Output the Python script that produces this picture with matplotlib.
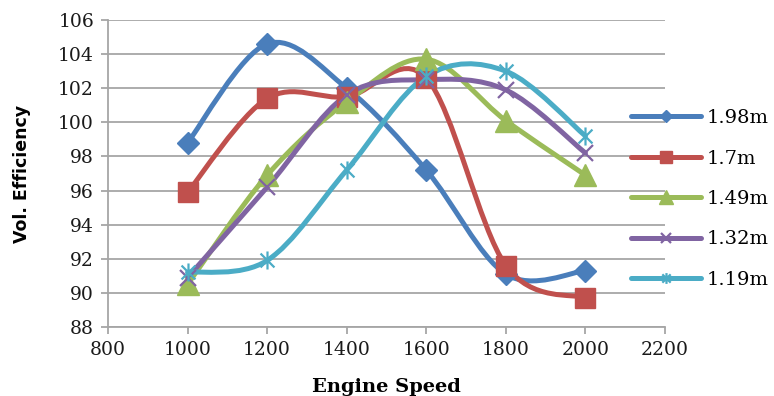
import numpy as np
import matplotlib
matplotlib.use("Agg")
import matplotlib.pyplot as plt
from matplotlib.path import Path
from matplotlib.patches import PathPatch
from matplotlib.lines import Line2D

# DATA
speed = [1000, 1200, 1400, 1600, 1800, 2000]
labels = ["1.98m", "1.7m", "1.49m", "1.32m", "1.19m"]
eff_198 = [98.8, 104.6, 102.0, 97.2, 91.1, 91.3]
eff_170 = [95.9, 101.4, 101.5, 102.6, 91.6, 89.7]
eff_149 = [90.5, 96.9, 101.2, 103.7, 100.1, 96.9]
eff_132 = [90.9, 96.2, 101.6, 102.5, 101.9, 98.2]
eff_119 = [91.2, 91.9, 97.2, 102.7, 103.0, 99.2]
x_ticks = [800, 1000, 1200, 1400, 1600, 1800, 2000, 2200]
y_ticks = [88, 90, 92, 94, 96, 98, 100, 102, 104, 106]

colors = ["#4A7EBB", "#C0504D", "#9BBB59", "#8064A2", "#4BACC6"]

# asterisk marker (x with a vertical bar)
star = Path([(-1, -1), (1, 1), (-1, 1), (1, -1), (0, -1.3), (0, 1.3)],
            [Path.MOVETO, Path.LINETO, Path.MOVETO, Path.LINETO, Path.MOVETO, Path.LINETO])
markers = [("D", 11), ("s", 15), ("^", 16), ("x", 11), (star, 13)]

XMIN, XMAX, YMIN, YMAX = 800, 2200, 88, 106
W_PX, H_PX = 557, 307


def smooth_path(xs, ys):
    # Excel-style smoothed line: cubic bezier through the points, built in screen-like units
    px = (np.array(xs, float) - XMIN) / (XMAX - XMIN) * W_PX
    py = (np.array(ys, float) - YMIN) / (YMAX - YMIN) * H_PX
    pts = np.column_stack([px, py])
    n = len(pts)
    verts = [pts[0]]
    codes = [Path.MOVETO]
    for i in range(n - 1):
        p0 = pts[i - 1] if i > 0 else pts[i]
        p1 = pts[i]
        p2 = pts[i + 1]
        p3 = pts[i + 2] if i + 2 < n else pts[i + 1]
        c1 = p1 + (p2 - p0) / 6.0
        c2 = p2 - (p3 - p1) / 6.0
        verts += [c1, c2, p2]
        codes += [Path.CURVE4] * 3
    v = np.array(verts)
    v[:, 0] = v[:, 0] / W_PX * (XMAX - XMIN) + XMIN
    v[:, 1] = v[:, 1] / H_PX * (YMAX - YMIN) + YMIN
    return Path(v, codes)


fig = plt.figure(figsize=(7.74, 3.96), dpi=100)
ax = fig.add_axes([108 / 774, 1 - 327 / 396, 557 / 774, 307 / 396])

series = [eff_198, eff_170, eff_149, eff_132, eff_119]
handles = []
for vals, col, (mk, ms), lab in zip(series, colors, markers, labels):
    ax.add_patch(PathPatch(smooth_path(speed, vals), fill=False, edgecolor=col,
                           lw=3.6, capstyle="round", joinstyle="round", zorder=3))
    mew = 1.6 if mk in ("x",) or isinstance(mk, Path) else 1
    ax.plot(speed, vals, linestyle="none", marker=mk, markersize=ms, color=col,
            markeredgecolor=col, markeredgewidth=mew, zorder=4)
    handles.append(Line2D([0], [0], color=col, lw=3.6, marker=mk,
                          markersize=ms * 0.6, markeredgewidth=mew, solid_capstyle="round"))

ax.set_xlim(XMIN, XMAX)
ax.set_ylim(YMIN, YMAX)
ax.set_xticks(x_ticks)
ax.set_yticks(y_ticks)
ax.grid(axis="y", color="#A6A6A6", lw=1.3)
ax.set_axisbelow(True)
for s in ("top", "right"):
    ax.spines[s].set_visible(False)
for s in ("left", "bottom"):
    ax.spines[s].set_color("#A6A6A6")
    ax.spines[s].set_linewidth(1.3)
ax.tick_params(axis="both", direction="out", length=5, width=1.3, color="#A6A6A6",
               labelsize=13.5, labelcolor="#1a1a1a", pad=5)
for t in ax.get_xticklabels() + ax.get_yticklabels():
    t.set_fontfamily("DejaVu Serif")

fig.text(386 / 774, 1 - 392 / 396, "Engine Speed", ha="center", va="baseline",
         fontsize=14, fontweight="bold", family="DejaVu Serif")
fig.text(22 / 774, 1 - 174 / 396, "Vol. Efficiency", ha="center", va="center",
         rotation=90, fontsize=12.5, fontweight="bold", family="Liberation Sans Narrow")

fig.legend(handles, labels, loc="center left", bbox_to_anchor=(613 / 774, 1 - 199 / 396),
           frameon=False, handlelength=3.6, handletextpad=0.3, labelspacing=1.15,
           prop={"family": "DejaVu Serif", "size": 14})

fig.savefig("out.png", dpi=100)
